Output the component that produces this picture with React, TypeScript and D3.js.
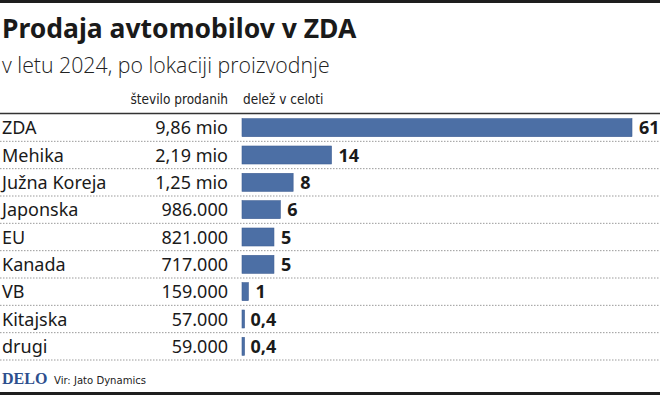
import React from "react";
import * as d3 from "d3";

const countries = ["ZDA", "Mehika", "Južna Koreja", "Japonska", "EU", "Kanada", "VB", "Kitajska", "drugi"];
const soldLabels = ["9,86 mio", "2,19 mio", "1,25 mio", "986.000", "821.000", "717.000", "159.000", "57.000", "59.000"];
const shares = [61, 14, 8, 6, 5, 5, 1, 0.4, 0.4];

const width = 660;
const height = 395;
const sans = "'Noto Sans', 'Open Sans', sans-serif";
const light = "'Open Sans', 'Noto Sans', sans-serif";
const narrow = "'Liberation Sans Narrow', 'DejaVu Sans Condensed', 'Roboto', sans-serif";

const fmt = (v: number) => String(v).replace(".", ",");

export default function App() {
  const x = d3.scaleLinear().domain([0, 61]).range([242, 632]);
  const y = d3.scaleBand<string>().domain(countries).range([114, 360]).paddingInner(0).paddingOuter(0);
  const barH = 18;

  return (
    <svg
      width={width}
      height={height}
      style={{ position: "absolute", left: 0, top: 0, background: "#fff" }}
    >
      <rect x={0} y={0} width={width} height={3} fill="#1e1e1e" />
      <text x={2} y={38} fontFamily={sans} fontWeight={700} fontSize={26.5} fill="#1a1a1a">
        Prodaja avtomobilov v ZDA
      </text>
      <text x={2} y={73} fontFamily={light} fontWeight={300} fontSize={21.3} fill="#222">
        v letu 2024, po lokaciji proizvodnje
      </text>
      <text x={228} y={104} textAnchor="end" fontFamily={narrow} fontSize={13.5} fill="#222">
        število prodanih
      </text>
      <text x={243} y={104} fontFamily={narrow} fontSize={13.5} fill="#222">
        delež v celoti
      </text>
      <line x1={0} x2={width} y1={113.5} y2={113.5} stroke="#333" strokeWidth={1.3} />

      {countries.map((c, i) => {
        const y0 = y(c)!;
        const cy = y0 + y.bandwidth() / 2;
        return (
          <g key={c}>
            <line
              x1={0}
              x2={width}
              y1={y0 + y.bandwidth()}
              y2={y0 + y.bandwidth()}
              stroke="#9a9a9a"
              strokeWidth={1}
              strokeDasharray="1.5,1.5"
            />
            <text x={2} y={cy + 6.5} fontFamily={sans} fontSize={18} fill="#1a1a1a">
              {c}
            </text>
            <text x={228} y={cy + 6.5} textAnchor="end" fontFamily={sans} fontSize={18} fill="#1a1a1a">
              {soldLabels[i]}
            </text>
            <rect
              x={x(0)}
              y={cy - barH / 2}
              width={Math.max(x(shares[i]) - x(0), 2.5)}
              height={barH}
              fill="#4c6fa5"
              stroke="#3f5f93"
              strokeWidth={0.6}
            />
            <text
              x={x(shares[i]) + (shares[i] < 1 ? 6 : 7)}
              y={cy + 6.5}
              fontFamily={sans}
              fontWeight={700}
              fontSize={18}
              fill="#1a1a1a"
            >
              {fmt(shares[i])}
            </text>
          </g>
        );
      })}

      <text x={2} y={384} fontFamily="'Liberation Serif', 'DejaVu Serif', serif" fontWeight={700} fontSize={16} fill="#2d4f8e">
        DELO
      </text>
      <text x={54} y={384} fontFamily={narrow} fontSize={11.2} fill="#222">
        Vir: Jato Dynamics
      </text>
      <rect x={0} y={392} width={width} height={3} fill="#1e1e1e" />
    </svg>
  );
}
